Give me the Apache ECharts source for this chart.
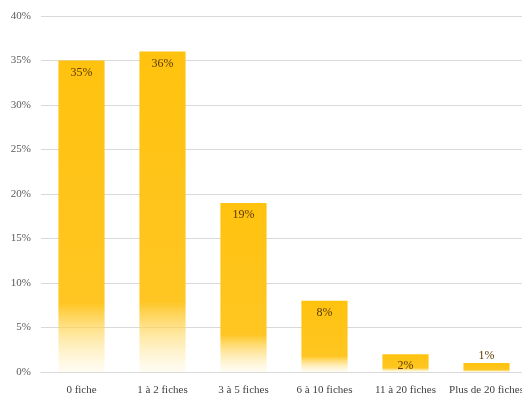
<!DOCTYPE html>
<html>
<head>
<meta charset="utf-8">
<script src="https://cdn.jsdelivr.net/npm/echarts@6/dist/echarts.min.js"></script>
<style>
  html, body { margin: 0; padding: 0; background: #fff; overflow: hidden; }
  #chart { width: 522px; height: 403px; }
</style>
</head>
<body>
<div id="chart"></div>
<script>
const categories = ['0 fiche', '1 à 2 fiches', '3 à 5 fiches', '6 à 10 fiches', '11 à 20 fiches', 'Plus de 20 fiches'];
const values = [35, 36, 19, 8, 2, 1];
const yTicks = [0, 5, 10, 15, 20, 25, 30, 35, 40];

const chart = echarts.init(document.getElementById('chart'));

// gradient: solid gold, fading out towards the bottom
const barFill = new echarts.graphic.LinearGradient(0, 0, 0, 1, [
  { offset: 0, color: '#FFC20E' },
  { offset: 0.78, color: '#FFC623' },
  { offset: 1, color: 'rgba(255,236,170,0.15)' }
]);

// very short bars get their label above the bar
const barData = values.map(v => ({
  value: v,
  label: v < 2 ? { position: 'top', distance: 1 } : undefined
}));

const option = {
  animation: false,
  grid: { left: 41, width: 486, top: 16, bottom: 31, outerBoundsMode: 'none', containLabel: false },
  xAxis: {
    type: 'category',
    data: categories,
    axisLine: { lineStyle: { color: '#d9d9d9' } },
    axisTick: { show: false },
    axisLabel: {
      color: '#404040',
      fontFamily: 'Liberation Serif',
      fontSize: 11,
      margin: 13,
      interval: 0
    }
  },
  yAxis: {
    type: 'value',
    min: yTicks[0],
    max: yTicks[yTicks.length - 1],
    interval: 5,
    axisLine: { show: false },
    axisTick: { show: false },
    splitLine: { lineStyle: { color: '#d9d9d9', width: 1 } },
    axisLabel: {
      color: '#595959',
      fontFamily: 'Liberation Serif',
      fontSize: 11,
      margin: 10,
      formatter: '{value}%'
    }
  },
  series: [{
    type: 'bar',
    data: barData,
    barWidth: '57%',
    itemStyle: { color: barFill },
    label: {
      show: true,
      position: 'insideTop',
      distance: 6,
      color: '#5a3a00',
      fontFamily: 'Liberation Serif',
      fontSize: 12,
      formatter: '{c}%'
    }
  }]
};

chart.setOption(option);
</script>
</body>
</html>
